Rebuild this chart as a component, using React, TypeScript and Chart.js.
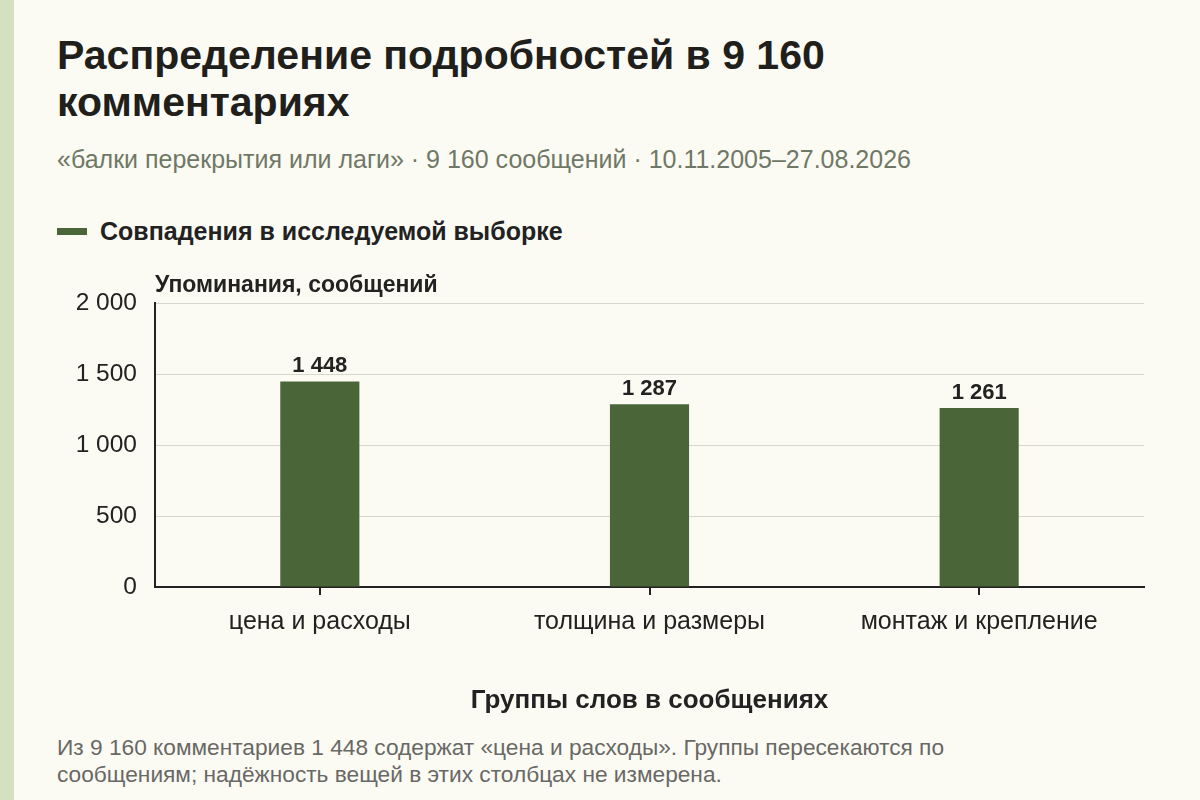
import { useEffect, useRef } from 'react';
import { Chart, registerables } from 'chart.js';

Chart.register(...registerables);

const categories = ['цена и расходы', 'толщина и размеры', 'монтаж и крепление'];
const mentions = [1448, 1287, 1261];
const yTicks = [0, 500, 1000, 1500, 2000];

const FONT = "'Liberation Sans', Arial, sans-serif";
const BAR = '#4a6639';
const INK = '#222222';

const fmt = (v: number) => String(v).replace(/\B(?=(\d{3})+(?!\d))/g, ' ');

// value labels over the bars + horizontal y-axis title
const overlay = {
  id: 'overlay',
  afterDatasetsDraw(chart: Chart) {
    const { ctx, chartArea } = chart;
    ctx.save();
    ctx.fillStyle = INK;
    ctx.textAlign = 'center';
    ctx.textBaseline = 'alphabetic';
    ctx.font = `bold 22px ${FONT}`;
    chart.getDatasetMeta(0).data.forEach((bar: any, i) => {
      ctx.fillText(fmt(mentions[i]), bar.x, bar.y - 9);
    });
    ctx.textAlign = 'left';
    ctx.font = `bold 23px ${FONT}`;
    ctx.fillText('Упоминания, сообщений', chartArea.left, chartArea.top - 11);
    ctx.restore();
  },
};

export default function App() {
  const canvasRef = useRef<HTMLCanvasElement>(null);

  useEffect(() => {
    if (!canvasRef.current) return;
    const chart = new Chart(canvasRef.current, {
      type: 'bar',
      data: {
        labels: categories,
        datasets: [{
          label: 'Совпадения в исследуемой выборке',
          data: mentions,
          backgroundColor: BAR,
          barPercentage: 0.24,
          categoryPercentage: 1,
        }],
      },
      options: {
        responsive: true,
        maintainAspectRatio: false,
        animation: false,
        layout: { padding: { top: 43, right: 56, left: 0, bottom: 0 } },
        plugins: {
          legend: { display: false },
          tooltip: { enabled: false },
        },
        scales: {
          x: {
            afterFit: (s: any) => { s.height = 133; },
            grid: { offset: false, drawOnChartArea: false, drawTicks: true, tickLength: 8, color: INK, lineWidth: 2 },
            border: { color: INK, width: 2 },
            ticks: { color: INK, font: { family: FONT, size: 25 }, padding: 12 },
            title: {
              display: true,
              text: 'Группы слов в сообщениях',
              color: INK,
              font: { family: FONT, size: 26, weight: 'bold' },
              padding: { top: 0, bottom: 4 },
            },
          },
          y: {
            min: 0,
            max: 2000,
            afterFit: (s: any) => { s.width = 155; },
            afterBuildTicks: (s: any) => { s.ticks = yTicks.map(v => ({ value: v })); },
            grid: { color: '#d9d7cd', lineWidth: 1, drawTicks: false },
            border: { color: INK, width: 2 },
            ticks: { color: INK, font: { family: FONT, size: 24.5 }, padding: 18, callback: (v) => fmt(Number(v)) },
          },
        },
      },
      plugins: [overlay],
    });
    return () => chart.destroy();
  }, []);

  return (
    <div style={{ position: 'absolute', left: 0, top: 0, width: 1200, height: 800, background: '#fcfbf3', fontFamily: FONT, overflow: 'hidden' }}>
      <div style={{ position: 'absolute', left: 0, top: 0, width: 14, height: 800, background: '#d5e0c3' }} />
      <div style={{ position: 'absolute', left: 57, top: 32, width: 1100, fontSize: 41, lineHeight: '47px', fontWeight: 'bold', color: '#1f201b' }}>
        Распределение подробностей в 9 160<br />комментариях
      </div>
      <div style={{ position: 'absolute', left: 57, top: 144, fontSize: 25, lineHeight: '30px', color: '#6f7866', whiteSpace: 'nowrap' }}>
        «балки перекрытия или лаги» · 9 160 сообщений · 10.11.2005–27.08.2026
      </div>
      <div style={{ position: 'absolute', left: 57, top: 216, display: 'flex', alignItems: 'center' }}>
        <div style={{ width: 30, height: 7, background: BAR, marginRight: 13 }} />
        <div style={{ fontSize: 25, lineHeight: '30px', fontWeight: 'bold', color: INK, whiteSpace: 'nowrap' }}>Совпадения в исследуемой выборке</div>
      </div>
      <div style={{ position: 'absolute', left: 0, top: 260, width: 1200, height: 460 }}>
        <canvas ref={canvasRef} />
      </div>
      <div style={{ position: 'absolute', left: 57, top: 734, width: 1130, fontSize: 22.7, lineHeight: '27px', color: '#686866', whiteSpace: 'nowrap' }}>
        Из 9 160 комментариев 1 448 содержат «цена и расходы». Группы пересекаются по<br />
        сообщениям; надёжность вещей в этих столбцах не измерена.
      </div>
    </div>
  );
}
